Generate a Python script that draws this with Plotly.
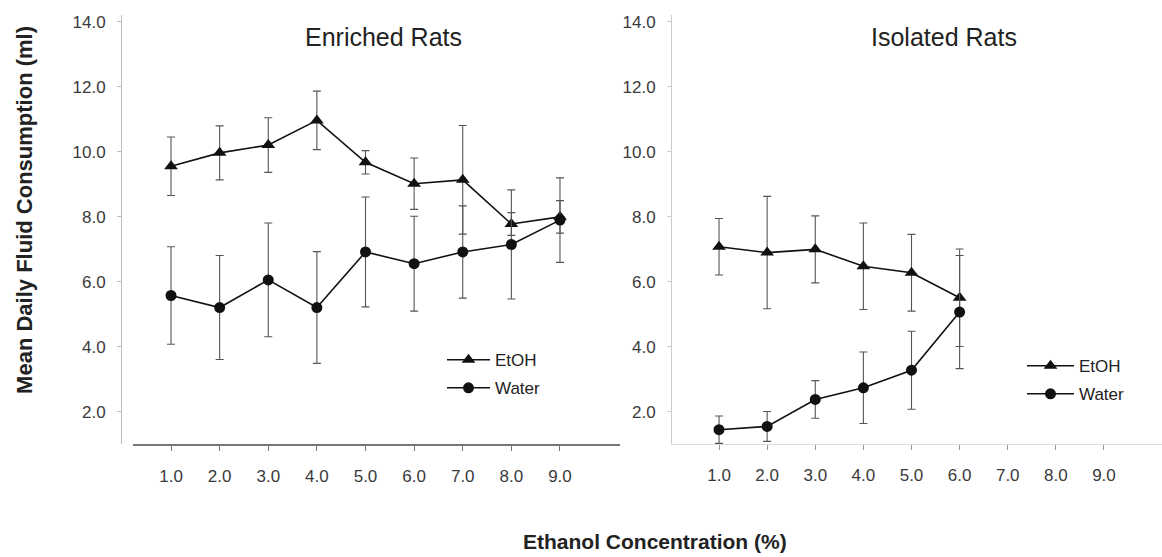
import plotly.graph_objects as go

# ---- data ----
conc_enriched = [1.0, 2.0, 3.0, 4.0, 5.0, 6.0, 7.0, 8.0, 9.0]
enr_etoh = [9.56, 9.97, 10.21, 10.97, 9.68, 9.02, 9.14, 7.78, 8.00]
enr_etoh_err = [0.90, 0.83, 0.84, 0.90, 0.36, 0.79, 1.67, 0.35, 0.50]
enr_water = [5.58, 5.21, 6.06, 5.21, 6.92, 6.56, 6.92, 7.15, 7.90]
enr_water_err = [1.50, 1.60, 1.75, 1.72, 1.69, 1.46, 1.42, 1.68, 1.30]

conc_isolated = [1.0, 2.0, 3.0, 4.0, 5.0, 6.0]
iso_etoh = [7.08, 6.90, 7.00, 6.48, 6.28, 5.51]
iso_etoh_err = [0.87, 1.73, 1.03, 1.33, 1.18, 1.50]
iso_water = [1.45, 1.55, 2.38, 2.74, 3.28, 5.07]
iso_water_err = [0.42, 0.46, 0.58, 1.10, 1.20, 1.74]

x_ticks = [1.0, 2.0, 3.0, 4.0, 5.0, 6.0, 7.0, 8.0, 9.0]
y_ticks = [2.0, 4.0, 6.0, 8.0, 10.0, 12.0, 14.0]

W, H = 1162, 557
def px(v):
    return v / W
def py(v):
    return 1 - v / H

tick_font = dict(family="Liberation Sans Narrow, Arial Narrow, Liberation Sans, Arial", size=17, color="#3a3a3a")
ink = "#111"
err_col = "#555"

fig = go.Figure()

def add_series(x, y, err, name, symbol, xa, ya, legend):
    fig.add_trace(go.Scatter(
        x=x, y=y, name=name, mode="lines+markers",
        xaxis=xa, yaxis=ya, legend=legend, legendgroup=legend + name,
        line=dict(color=ink, width=1.6),
        marker=dict(symbol=symbol, size=12 if symbol == "triangle-up" else 11, color=ink),
        error_y=dict(type="data", array=err, visible=True, color=err_col, thickness=1.1, width=4),
    ))

add_series(conc_enriched, enr_etoh, enr_etoh_err, "EtOH", "triangle-up", "x", "y", "legend")
add_series(conc_enriched, enr_water, enr_water_err, "Water", "circle", "x", "y", "legend")
add_series(conc_isolated, iso_etoh, iso_etoh_err, "EtOH", "triangle-up", "x2", "y2", "legend2")
add_series(conc_isolated, iso_water, iso_water_err, "Water", "circle", "x2", "y2", "legend2")

y_dom = [py(443.7), py(12.5)]
y_rng = [1.0, 14.2]

common_x = dict(tickmode="array", tickvals=x_ticks, ticktext=[f"{v:.1f}" for v in x_ticks],
                showgrid=False, zeroline=False, ticks="outside", ticklen=5,
                tickfont=tick_font, ticklabelstandoff=10)
common_y = dict(tickmode="array", tickvals=y_ticks, ticktext=[f"{v:.1f}" for v in y_ticks],
                range=y_rng, domain=y_dom, showgrid=False, zeroline=False,
                ticks="outside", ticklen=4, tickfont=tick_font, ticklabelstandoff=8)

legend_font = dict(family="Liberation Sans, Arial", size=17, color="#222")

fig.update_layout(
    width=W, height=H,
    margin=dict(l=0, r=0, t=0, b=0),
    paper_bgcolor="white", plot_bgcolor="white",
    xaxis=dict(domain=[px(133), px(620)], range=[1 - 38 / 48.6, 9 + 60 / 48.6], anchor="y",
               showline=True, linecolor="#777", linewidth=2, tickcolor="#777", **common_x),
    yaxis=dict(anchor="free", position=px(121), showline=True, linecolor="#bbb", linewidth=1,
               tickcolor="#bbb", **common_y),
    xaxis2=dict(domain=[px(672), 1.0], range=[1 - 47 / 48.1, 9 + 58 / 48.1], anchor="y2",
                showline=True, linecolor="#ddd", linewidth=1, tickcolor="#999", **common_x),
    yaxis2=dict(anchor="x2", showline=True, linecolor="#ccc", linewidth=1, tickcolor="#ccc", **common_y),
    legend=dict(x=px(442), y=py(341), xanchor="left", yanchor="top", bgcolor="rgba(0,0,0,0)",
                font=legend_font, itemwidth=43, tracegroupgap=3),
    legend2=dict(x=px(1022), y=py(347), xanchor="left", yanchor="top", bgcolor="rgba(0,0,0,0)",
                 font=legend_font, itemwidth=47, tracegroupgap=3),
    showlegend=True,
)

title_font = dict(family="Liberation Sans, Arial", size=25, color="#222")
fig.add_annotation(text="Enriched Rats", xref="paper", yref="paper", x=px(383), y=py(34),
                   xanchor="center", yanchor="middle", showarrow=False, font=title_font)
fig.add_annotation(text="Isolated Rats", xref="paper", yref="paper", x=px(944), y=py(34),
                   xanchor="center", yanchor="middle", showarrow=False, font=title_font)
fig.add_annotation(text="<b>Ethanol Concentration (%)</b>", xref="paper", yref="paper",
                   x=px(655), y=py(541), xanchor="center", yanchor="middle", showarrow=False,
                   font=dict(family="Liberation Sans, Arial", size=21, color="#222"))
fig.add_annotation(text="<b>Mean Daily Fluid Consumption (ml)</b>", xref="paper", yref="paper",
                   x=px(25), y=py(208), xanchor="center", yanchor="middle", showarrow=False,
                   textangle=-90,
                   font=dict(family="Liberation Sans, Arial", size=22, color="#222"))

fig.write_html("out.html")
